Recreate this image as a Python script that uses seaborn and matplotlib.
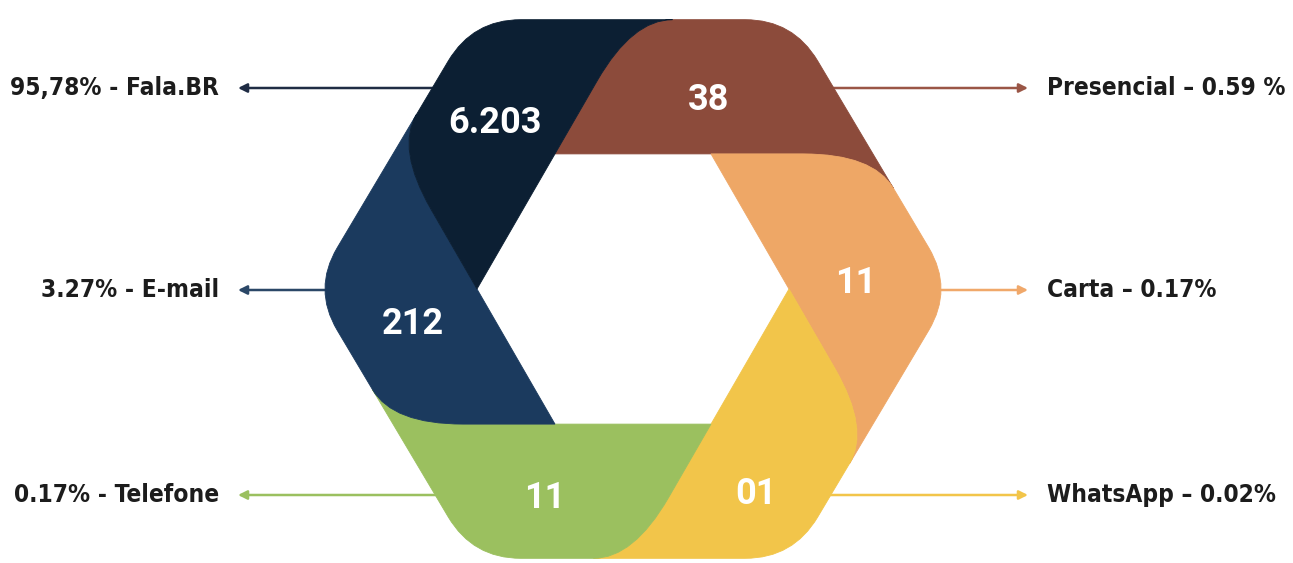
import numpy as np
import matplotlib.pyplot as plt
import seaborn as sns
from matplotlib.path import Path
from matplotlib.patches import PathPatch
from matplotlib import font_manager

# Dados (ordem horária a partir do lado de cima do hexágono)
canais = ['Presencial', 'Carta', 'WhatsApp', 'Telefone', 'E-mail', 'Fala.BR']
quantidades = ['38', '11', '01', '11', '212', '6.203']
rotulos = ['Presencial – 0.59 %', 'Carta – 0.17%', 'WhatsApp – 0.02%',
           '0.17% - Telefone', '3.27% - E-mail', '95,78% - Fala.BR']
cores = ['#8c4b3b', '#eea766', '#f2c54a', '#9bc05f', '#1b3a5e', '#0c1f33']
cores_seta = ['#9a5646', '#f0a86a', '#f2c54a', '#9bc05f', '#2b4767', '#1f2c44']

sns.set_theme(style='white')
paleta = sns.color_palette(cores)

# Layout
W_PX, H_PX = 1293, 563
cx, cy = 633, 289
R, r, sx = 311, 156, 1.03
corte_ext = 48
corte_lead = (70, 40)   # (ao longo da divisória, ao longo da borda)
linha_y = {0: 88, 1: 290, 2: 495, 3: 495, 4: 290, 5: 88}
lado = {0: 1, 1: 1, 2: 1, 3: -1, 4: -1, 5: -1}
ajuste = [(-4, 0), (16, 20), (-3, 42), (-8, 20), (-14, 9), (-12, -3)]

ang = np.radians(120 - 60 * np.arange(6))
W = np.c_[sx * R * np.cos(ang), R * np.sin(ang)]
P = np.c_[r * np.cos(ang), r * np.sin(ang)]


def unit(v):
    return v / np.linalg.norm(v)


def corte(i):
    # onde o prolongamento do lado interno i-1 encontra o lado externo i
    p = P[i % 6]
    d = unit(p - P[(i - 1) % 6])
    a, b = W[i % 6], W[(i + 1) % 6]
    t, s = np.linalg.solve(np.column_stack([d, a - b]), a - p)
    return p + t * d


def pontas(i):
    x = corte(i)
    a = x + corte_lead[0] * unit(P[i % 6] - x)
    b = x + corte_lead[1] * unit(W[(i + 1) % 6] - x)
    return a, x, b


def segmento(i):
    a0, x0, b0 = pontas(i)
    a1, x1, b1 = pontas(i + 1)
    w = W[(i + 1) % 6]
    wa = w + corte_ext * unit(x0 - w)
    wb = w + corte_ext * unit(x1 - w)
    pts = [P[i % 6], a0, x0, b0, wa, w, wb, x1, b1, x1, a1, P[(i + 1) % 6], P[i % 6]]
    codes = [Path.MOVETO, Path.LINETO, Path.CURVE3, Path.CURVE3,
             Path.LINETO, Path.CURVE3, Path.CURVE3,
             Path.LINETO, Path.LINETO, Path.CURVE3, Path.CURVE3,
             Path.LINETO, Path.CLOSEPOLY]
    return Path(np.array(pts), codes)


# fonte estreita para os rótulos laterais, se houver
fonte = None
for f in font_manager.fontManager.ttflist:
    nome = f.name.lower()
    estreita = ('narrow' in nome or 'condensed' in nome
                or 'condensed' in str(f.stretch) or 'narrow' in f.fname.lower()
                or 'condensed' in f.fname.lower())
    if estreita and f.weight in ('bold', 700, 'semibold', 600) and f.style == 'normal':
        fonte = font_manager.FontProperties(fname=f.fname)
        break
if fonte is None:
    fonte = font_manager.FontProperties(family='Roboto', weight='bold')

fig = plt.figure(figsize=(W_PX / 100, H_PX / 100), dpi=100)
ax = fig.add_axes([0, 0, 1, 1])
ax.set_xlim(-cx, W_PX - cx)
ax.set_ylim(-(H_PX - cy), cy)
ax.set_axis_off()

# setas e rótulos laterais
textos = []
for i in range(6):
    y = cy - linha_y[i]
    s = lado[i]
    meia = sx * (R - abs(y) / np.sqrt(3))
    ax.annotate('', xy=(s * 395, y), xytext=(s * (meia - 20), y),
                arrowprops=dict(arrowstyle='-|>', color=cores_seta[i], lw=1.8,
                                mutation_scale=13, shrinkA=0, shrinkB=0),
                zorder=1)
    t = ax.text(s * 414, y, rotulos[i], ha='left' if s > 0 else 'right',
                va='center', fontproperties=fonte, fontsize=20, color='#1c1c1c')
    textos.append(t)

# ajusta o tamanho da fonte pela largura disponível
fig.canvas.draw()
rend = fig.canvas.get_renderer()
larg0 = textos[0].get_window_extent(rend).width
larg5 = textos[5].get_window_extent(rend).width
tam = min(20 * 238 / larg0, 20 * 212 / larg5, 22)
for t in textos:
    t.set_fontsize(tam)

# segmentos do hexágono
for i in range(6):
    ax.add_patch(PathPatch(segmento(i), facecolor=paleta[i],
                           edgecolor=paleta[i], lw=0.6, zorder=2))

# valores
for i in range(6):
    t = [P[i], corte(i), W[(i + 1) % 6], corte(i + 1), P[(i + 1) % 6]]
    c = np.mean(t, axis=0)
    dx, dy = ajuste[i]
    ax.text(c[0] + dx, c[1] - dy, quantidades[i], ha='center', va='center',
            fontsize=26, fontweight='bold', color='white',
            family=['Roboto', 'DejaVu Sans'], zorder=3)

fig.savefig('out.png', dpi=100, facecolor='white')
